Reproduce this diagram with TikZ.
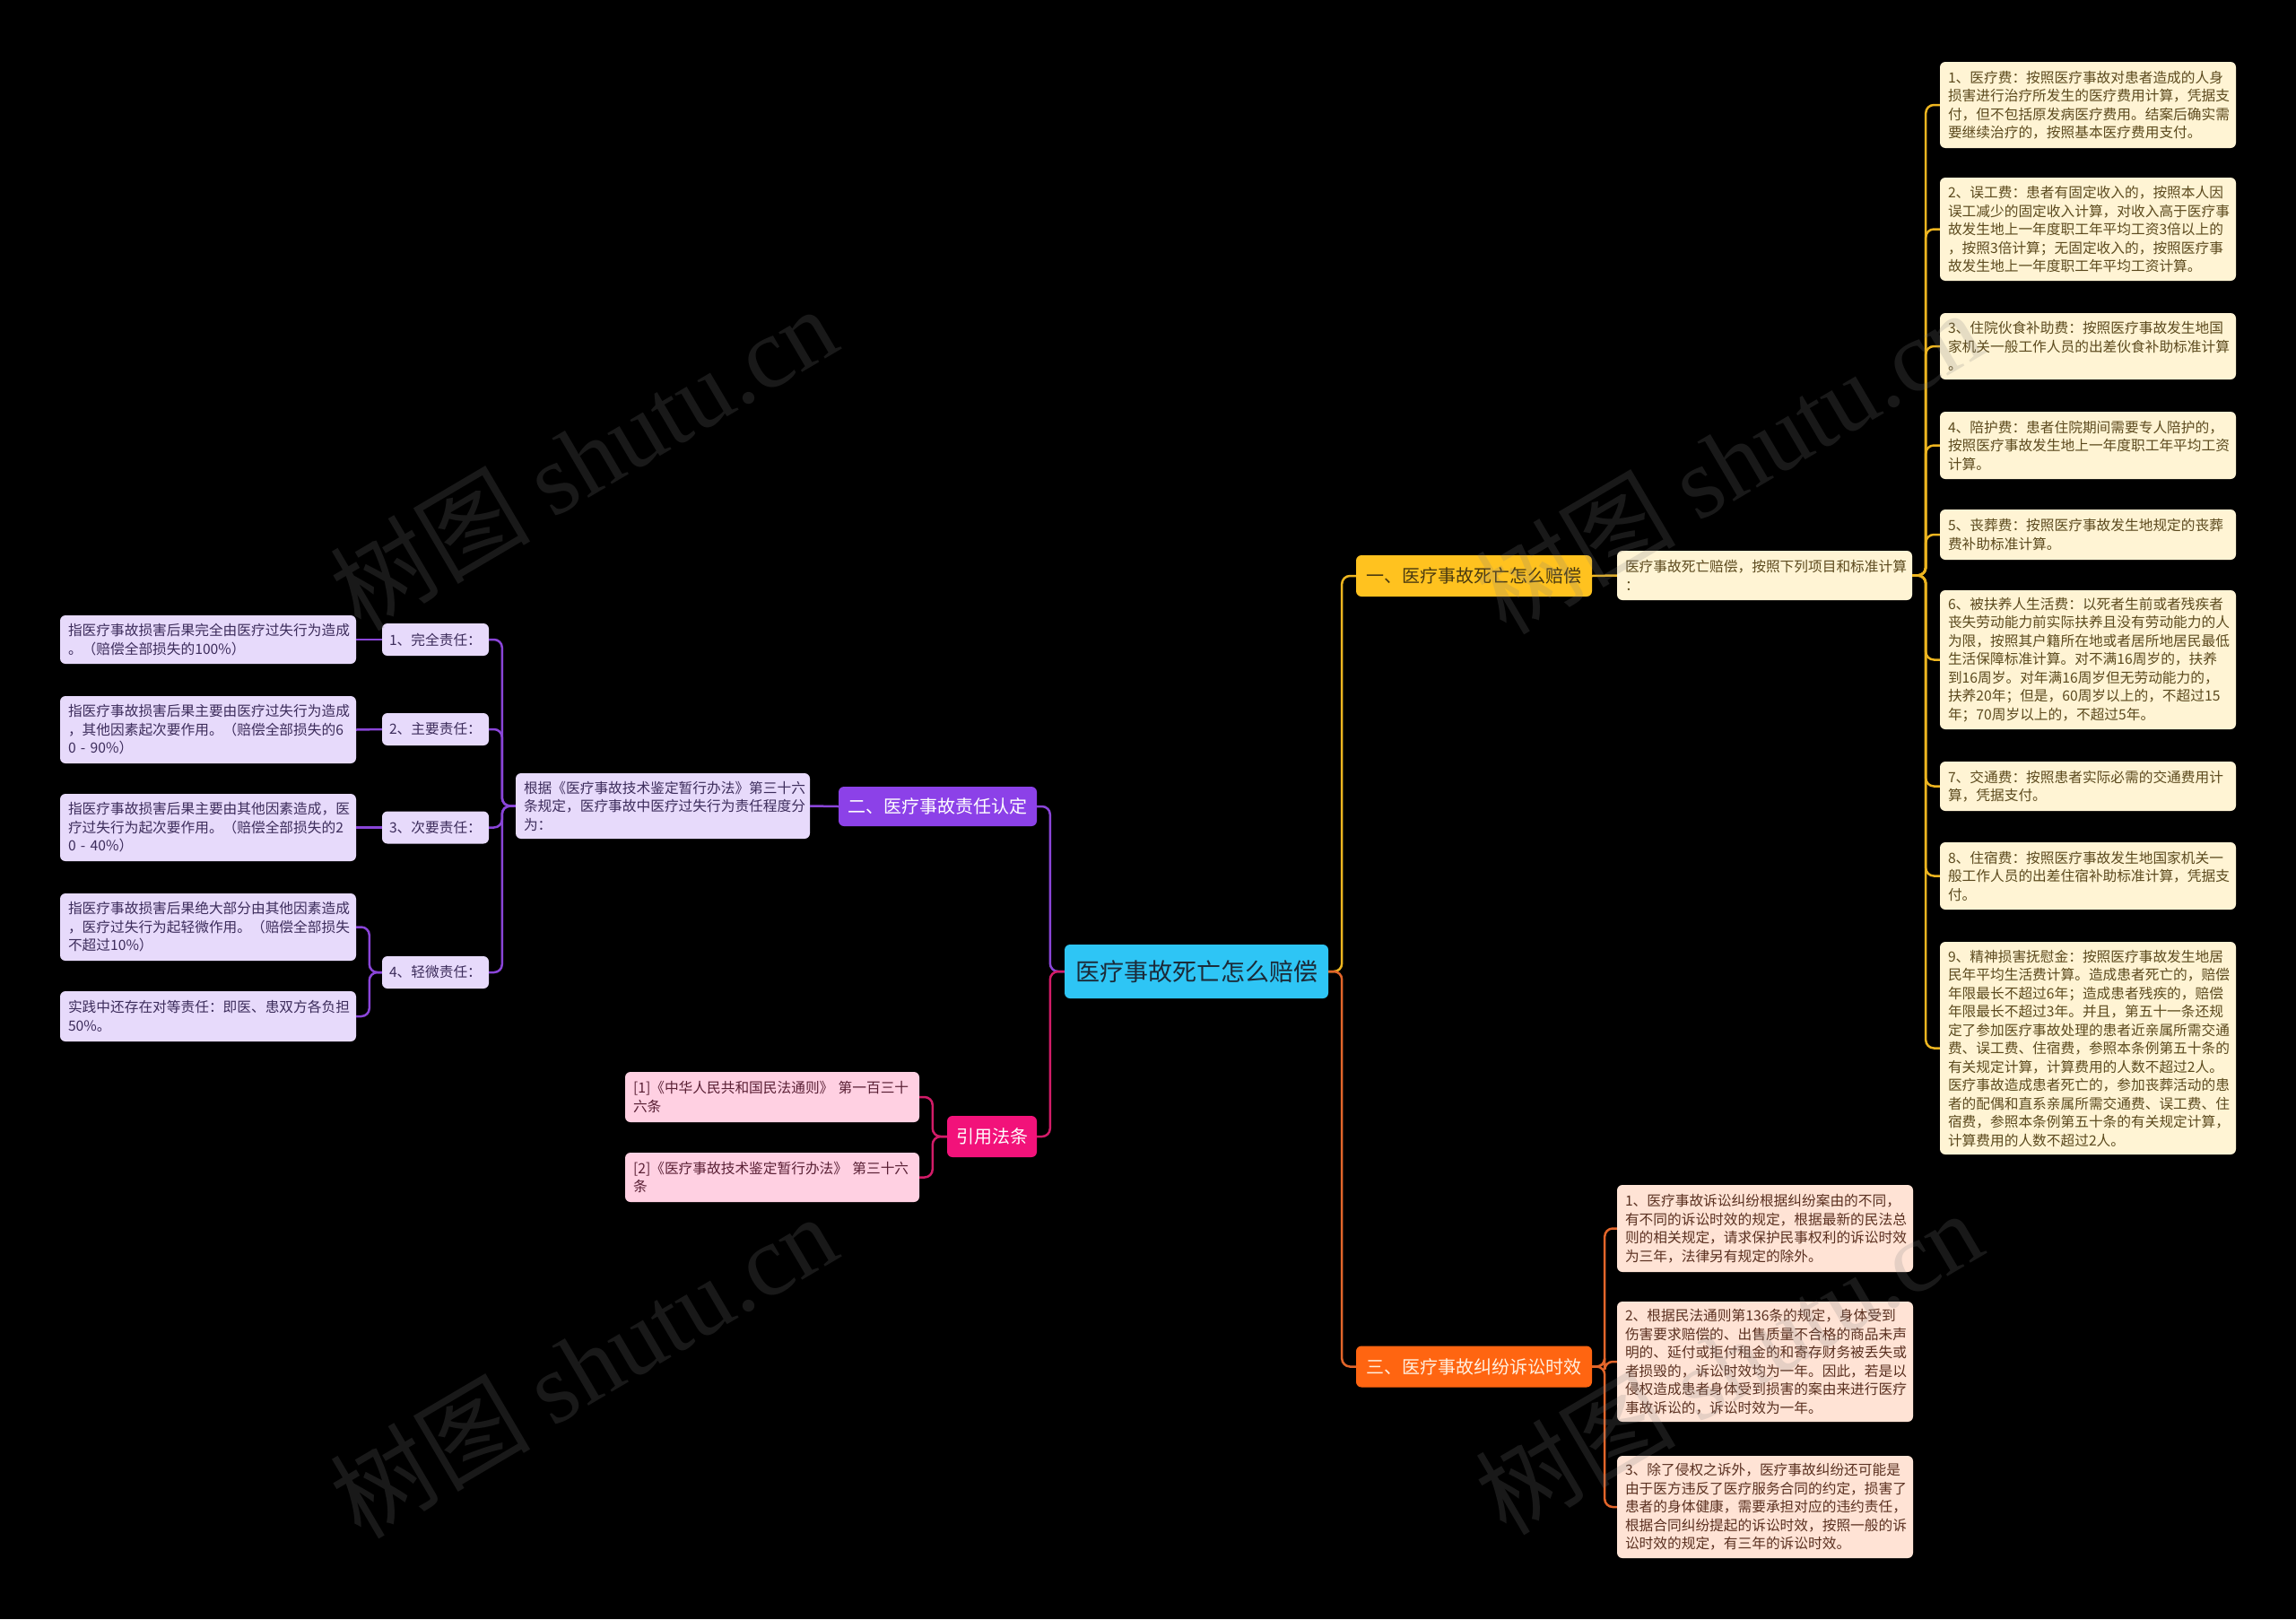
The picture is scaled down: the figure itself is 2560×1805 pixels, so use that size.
\documentclass[tikz,border=0pt]{standalone}
\usepackage{fontspec}
\setmainfont{Noto Sans CJK SC}
\newfontfamily\wmfont{Liberation Serif}
\usetikzlibrary{calc}
\definecolor{cCen}{HTML}{2EC5F5}\definecolor{cCenT}{HTML}{1B2A38}
\definecolor{cY}{HTML}{FFC21F}\definecolor{cYT}{HTML}{4A3A10}
\definecolor{cYL}{HTML}{FFF4D4}\definecolor{cYLT}{HTML}{5C4A1E}\definecolor{cYLine}{HTML}{EDB520}
\definecolor{cO}{HTML}{FF6511}\definecolor{cOT}{HTML}{FFF0E0}
\definecolor{cOL}{HTML}{FFE3D5}\definecolor{cOLT}{HTML}{5A3020}\definecolor{cOLine}{HTML}{E2652A}
\definecolor{cP}{HTML}{8C41E8}\definecolor{cPL}{HTML}{E7DAFB}\definecolor{cPLT}{HTML}{3D2D5C}\definecolor{cPLine}{HTML}{8A45D8}
\definecolor{cM}{HTML}{F2127A}\definecolor{cML}{HTML}{FFD0E2}\definecolor{cMLT}{HTML}{5A2035}\definecolor{cMLine}{HTML}{D21C68}
\tikzset{
 box/.style={rounded corners=6pt, align=left, inner xsep=9pt, inner ysep=0pt, font=\fontsize{15.7}{20.5}\selectfont},
 ybox/.style={box, fill=cYL, text=cYLT},
 obox/.style={box, fill=cOL, text=cOLT},
 pbox/.style={box, fill=cPL, text=cPLT},
 mbox/.style={box, fill=cML, text=cMLT},
 branch/.style={rounded corners=6pt, align=center, inner sep=0pt, font=\fontsize{20}{24}\selectfont},
 conn/.style={line width=2.5pt, rounded corners=9pt},
 wm/.style={rotate=30.5, text=gray, opacity=0.2, font=\fontsize{112}{112}\selectfont},
}
\begin{document}
\begin{tikzpicture}[x=1pt,y=-1pt]
\useasboundingbox (0,0) rectangle (2560,1805);
\fill[black] (0,0) rectangle (2560,1805);
% center
\node[branch, fill=cCen, text=cCenT, minimum width=294pt, minimum height=60pt, font=\fontsize{27}{30}\selectfont] (root) at (1334,1083) {医疗事故死亡怎么赔偿};
% branch 1
\node[branch, fill=cY, text=cYT, minimum width=263pt, minimum height=46pt] (b1) at (1643.5,642) {一、医疗事故死亡怎么赔偿};
\node[ybox, text width=311pt, minimum height=55pt] (b1a) at (1967.5,641.5) {医疗事故死亡赔偿，按照下列项目和标准计算\\：};
\node[ybox, text width=312pt, minimum height=96pt] (y1) at (2328,117) {1、医疗费：按照医疗事故对患者造成的人身\\损害进行治疗所发生的医疗费用计算，凭据支\\付，但不包括原发病医疗费用。结案后确实需\\要继续治疗的，按照基本医疗费用支付。};
\node[ybox, text width=312pt, minimum height=115pt] (y2) at (2328,255.5) {2、误工费：患者有固定收入的，按照本人因\\误工减少的固定收入计算，对收入高于医疗事\\故发生地上一年度职工年平均工资3倍以上的\\，按照3倍计算；无固定收入的，按照医疗事\\故发生地上一年度职工年平均工资计算。};
\node[ybox, text width=312pt, minimum height=74pt] (y3) at (2328,386) {3、住院伙食补助费：按照医疗事故发生地国\\家机关一般工作人员的出差伙食补助标准计算\\。};
\node[ybox, text width=312pt, minimum height=75pt] (y4) at (2328,496.5) {4、陪护费：患者住院期间需要专人陪护的，\\按照医疗事故发生地上一年度职工年平均工资\\计算。};
\node[ybox, text width=312pt, minimum height=56pt] (y5) at (2328,596) {5、丧葬费：按照医疗事故发生地规定的丧葬\\费补助标准计算。};
\node[ybox, text width=312pt, minimum height=155pt] (y6) at (2328,735.5) {6、被扶养人生活费：以死者生前或者残疾者\\丧失劳动能力前实际扶养且没有劳动能力的人\\为限，按照其户籍所在地或者居所地居民最低\\生活保障标准计算。对不满16周岁的，扶养\\到16周岁。对年满16周岁但无劳动能力的，\\扶养20年；但是，60周岁以上的，不超过15\\年；70周岁以上的，不超过5年。};
\node[ybox, text width=312pt, minimum height=55pt] (y7) at (2328,876.5) {7、交通费：按照患者实际必需的交通费用计\\算，凭据支付。};
\node[ybox, text width=312pt, minimum height=75pt] (y8) at (2328,976.5) {8、住宿费：按照医疗事故发生地国家机关一\\般工作人员的出差住宿补助标准计算，凭据支\\付。};
\node[ybox, text width=312pt, minimum height=237pt] (y9) at (2328,1168.5) {9、精神损害抚慰金：按照医疗事故发生地居\\民年平均生活费计算。造成患者死亡的，赔偿\\年限最长不超过6年；造成患者残疾的，赔偿\\年限最长不超过3年。并且，第五十一条还规\\定了参加医疗事故处理的患者近亲属所需交通\\费、误工费、住宿费，参照本条例第五十条的\\有关规定计算，计算费用的人数不超过2人。\\医疗事故造成患者死亡的，参加丧葬活动的患\\者的配偶和直系亲属所需交通费、误工费、住\\宿费，参照本条例第五十条的有关规定计算，\\计算费用的人数不超过2人。};
% branch 3
\node[branch, fill=cO, text=cOT, minimum width=263pt, minimum height=46pt] (b3) at (1643.5,1523.5) {三、医疗事故纠纷诉讼时效};
\node[obox, text width=312pt, minimum height=97pt] (o1) at (1968,1369.5) {1、医疗事故诉讼纠纷根据纠纷案由的不同，\\有不同的诉讼时效的规定，根据最新的民法总\\则的相关规定，请求保护民事权利的诉讼时效\\为三年，法律另有规定的除外。};
\node[obox, text width=312pt, minimum height=134pt] (o2) at (1968,1518) {2、根据民法通则第136条的规定，身体受到\\伤害要求赔偿的、出售质量不合格的商品未声\\明的、延付或拒付租金的和寄存财务被丢失或\\者损毁的，诉讼时效均为一年。因此，若是以\\侵权造成患者身体受到损害的案由来进行医疗\\事故诉讼的，诉讼时效为一年。};
\node[obox, text width=312pt, minimum height=114pt] (o3) at (1968,1680) {3、除了侵权之诉外，医疗事故纠纷还可能是\\由于医方违反了医疗服务合同的约定，损害了\\患者的身体健康，需要承担对应的违约责任，\\根据合同纠纷提起的诉讼时效，按照一般的诉\\讼时效的规定，有三年的诉讼时效。};
% branch 2
\node[branch, fill=cP, text=white, minimum width=221pt, minimum height=44pt] (b2) at (1045.5,899) {二、医疗事故责任认定};
\node[pbox, text width=310pt, minimum height=73pt] (p0) at (739,898.5) {根据《医疗事故技术鉴定暂行办法》第三十六\\条规定，医疗事故中医疗过失行为责任程度分\\为：};
\node[pbox, inner xsep=8pt, text width=103pt, minimum height=36pt] (p1) at (485.5,713) {1、完全责任：};
\node[pbox, inner xsep=8pt, text width=103pt, minimum height=36pt] (p2) at (485.5,813) {2、主要责任：};
\node[pbox, inner xsep=8pt, text width=103pt, minimum height=36pt] (p3) at (485.5,922.5) {3、次要责任：};
\node[pbox, inner xsep=8pt, text width=103pt, minimum height=36pt] (p4) at (485.5,1084) {4、轻微责任：};
\node[pbox, text width=312pt, minimum height=54pt] (l1) at (232,713) {指医疗事故损害后果完全由医疗过失行为造成\\。（赔偿全部损失的100\%）};
\node[pbox, text width=312pt, minimum height=75pt] (l2) at (232,813.5) {指医疗事故损害后果主要由医疗过失行为造成\\，其他因素起次要作用。（赔偿全部损失的6\\0 - 90\%）};
\node[pbox, text width=312pt, minimum height=75pt] (l3) at (232,922.5) {指医疗事故损害后果主要由其他因素造成，医\\疗过失行为起次要作用。（赔偿全部损失的2\\0 - 40\%）};
\node[pbox, text width=312pt, minimum height=75pt] (l4a) at (232,1033.5) {指医疗事故损害后果绝大部分由其他因素造成\\，医疗过失行为起轻微作用。（赔偿全部损失\\不超过10\%）};
\node[pbox, text width=312pt, minimum height=56pt] (l4b) at (232,1133) {实践中还存在对等责任：即医、患双方各负担\\50\%。};
% cited laws
\node[branch, fill=cM, text=white, minimum width=100pt, minimum height=46pt] (b4) at (1106,1267) {引用法条};
\node[mbox, text width=310pt, minimum height=56pt] (m1) at (861,1223) {[1]《中华人民共和国民法通则》 第一百三十\\六条};
\node[mbox, text width=310pt, minimum height=55pt] (m2) at (861,1312.5) {[2]《医疗事故技术鉴定暂行办法》 第三十六\\条};
% connectors
\draw[conn, cYLine] (root.east) -- ++(15pt,0) |- (b1.west);
\draw[conn, cOLine] (root.east) -- ++(15pt,0) |- (b3.west);
\draw[conn, cPLine] (root.west) -- ++(-16pt,0) |- (b2.east);
\draw[conn, cMLine] (root.west) -- ++(-16pt,0) |- (b4.east);
\draw[conn, cYLine] (b1.east) -- (b1a.west);
\foreach \n in {y1,y2,y3,y4,y5,y6,y7,y8,y9}{
 \draw[conn, cYLine] (b1a.east) -- ++(15pt,0) |- (\n.west);
}
\foreach \n in {o1,o2,o3}{
 \draw[conn, cOLine] (b3.east) -- ++(14pt,0) |- (\n.west);
}
\draw[conn, cPLine] (b2.west) -- (p0.east);
\foreach \n in {p1,p2,p3,p4}{
 \draw[conn, cPLine] (p0.west) -- ++(-15pt,0) |- (\n.east);
}
\draw[conn, cPLine] (p1.west) -- (l1.east);
\draw[conn, cPLine] (p2.west) -- (l2.east);
\draw[conn, cPLine] (p3.west) -- (l3.east);
\draw[conn, cPLine] (p4.west) -- ++(-14pt,0) |- (l4a.east);
\draw[conn, cPLine] (p4.west) -- ++(-14pt,0) |- (l4b.east);
\draw[conn, cMLine] (b4.west) -- ++(-16pt,0) |- (m1.east);
\draw[conn, cMLine] (b4.west) -- ++(-16pt,0) |- (m2.east);
% watermarks
\node[wm] (wm1) at (650,510) {树图 {\wmfont shutu.cn}};
\node[wm] (wm2) at (1927,514) {树图 {\wmfont shutu.cn}};
\node[wm] (wm3) at (650,1522) {树图 {\wmfont shutu.cn}};
\node[wm] (wm4) at (1927,1518) {树图 {\wmfont shutu.cn}};
\end{tikzpicture}
\end{document}
